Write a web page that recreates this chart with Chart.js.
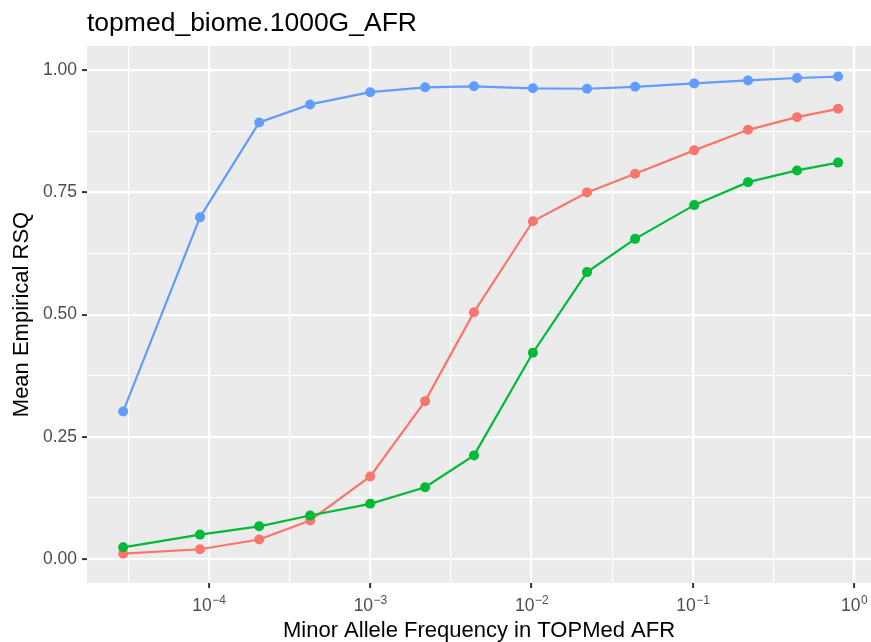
<!DOCTYPE html>
<html>
<head>
<meta charset="utf-8">
<script src="https://cdn.jsdelivr.net/npm/chart.js@4/dist/chart.umd.min.js"></script>
<style>
  html, body { margin: 0; padding: 0; background: #fff; }
  canvas { display: block; }
</style>
</head>
<body>
<canvas id="rsqChart" width="871" height="642"></canvas>
<script>
// minor allele frequency bins (x axis, log10)
var mafBins = [2.94e-5, 8.8e-5, 2.05e-4, 4.24e-4, 1.0e-3, 2.19e-3, 4.4e-3,
               1.02e-2, 2.21e-2, 4.39e-2, 0.102, 0.220, 0.443, 0.796];
// mean empirical rsq per series
var redRsq   = [0.011, 0.020, 0.040, 0.079, 0.169, 0.323, 0.505,
                0.691, 0.750, 0.788, 0.836, 0.878, 0.904, 0.921];
var greenRsq = [0.024, 0.050, 0.067, 0.089, 0.113, 0.147, 0.212,
                0.422, 0.587, 0.655, 0.724, 0.771, 0.795, 0.811];
var blueRsq  = [0.302, 0.699, 0.893, 0.930, 0.955, 0.965, 0.967,
                0.963, 0.962, 0.966, 0.973, 0.979, 0.984, 0.987];
// tick labels
var xTickExps   = [-4, -3, -2, -1, 0];
var xTickBase   = "10";
var xTickSups   = ["\u22124", "\u22123", "\u22122", "\u22121", "0"];
var yTickValues = [0, 0.25, 0.5, 0.75, 1];
var yTickLabels = ["0.00", "0.25", "0.50", "0.75", "1.00"];

var FONT = "'Liberation Sans', Arial, sans-serif";

function pts(ys) {
  return ys.map(function (y, i) { return {x: mafBins[i], y: y}; });
}

Chart.defaults.font.family = FONT;

var panelBg = {
  id: 'panelBg',
  beforeDraw: function (chart) {
    var a = chart.chartArea, c = chart.ctx;
    c.save();
    c.fillStyle = '#EBEBEB';
    c.fillRect(a.left, a.top, a.right - a.left, a.bottom - a.top);
    c.restore();
  }
};

// x tick labels as 10 with a raised exponent
var powerLabels = {
  id: 'powerLabels',
  afterDraw: function (chart) {
    var sx = chart.scales.x, c = chart.ctx;
    var yb = chart.chartArea.bottom;
    c.save();
    c.fillStyle = '#4D4D4D';
    c.textBaseline = 'alphabetic';
    c.textAlign = 'left';
    xTickExps.forEach(function (e, i) {
      var px = sx.getPixelForValue(Math.pow(10, e));
      c.font = '17.5px ' + FONT;
      var w1 = c.measureText(xTickBase).width;
      c.font = '12px ' + FONT;
      var w2 = c.measureText(xTickSups[i]).width;
      var x0 = px - (w1 + w2) / 2;
      c.font = '17.5px ' + FONT;
      c.fillText(xTickBase, x0, yb + 28);
      c.font = '12px ' + FONT;
      c.fillText(xTickSups[i], x0 + w1 + 0.5, yb + 21);
    });
    c.restore();
  }
};

function gridWidth(ctx) { return ctx.tick && ctx.tick.isMajor ? 2.2 : 1.1; }
function tickCol(ctx) { return ctx.tick && ctx.tick.isMajor ? '#333333' : 'rgba(0,0,0,0)'; }

function series(label, data, color, order) {
  return {
    label: label,
    data: pts(data),
    borderColor: color,
    backgroundColor: color,
    pointBackgroundColor: color,
    pointBorderWidth: 0,
    pointRadius: 5,
    borderWidth: 2.2,
    tension: 0,
    order: order
  };
}

var ctx = document.getElementById('rsqChart').getContext('2d');
var rsqChart = new Chart(ctx, {
  type: 'line',
  data: {
    datasets: [
      series('red', redRsq, '#F8766D', 2),
      series('green', greenRsq, '#00BA38', 1),
      series('blue', blueRsq, '#619CFF', 0)
    ]
  },
  plugins: [panelBg, powerLabels],
  options: {
    responsive: false,
    animation: false,
    devicePixelRatio: 1,
    layout: { padding: 0, autoPadding: false },
    plugins: {
      legend: { display: false },
      tooltip: { enabled: false },
      title: {
        display: true,
        text: 'topmed_biome.1000G_AFR',
        align: 'start',
        fullSize: false,
        color: '#000000',
        font: { size: 26.5, weight: 'normal', lineHeight: 1.2 },
        padding: { top: 7.7, bottom: 6.5 }
      }
    },
    scales: {
      x: {
        type: 'logarithmic',
        bounds: 'data',
        min: Math.pow(10, -4.756),
        max: Math.pow(10, 0.105),
        afterBuildTicks: function (scale) {
          var t = [];
          for (var e = -4.5; e <= 0; e += 0.5) {
            t.push({ value: Math.pow(10, e), isMajor: Number.isInteger(e) });
          }
          scale.ticks = t;
        },
        afterFit: function (scale) {
          scale.height = 59;
          scale.paddingLeft = 0;
          scale.paddingRight = 0;
        },
        border: { display: false },
        grid: {
          color: '#FFFFFF',
          lineWidth: gridWidth,
          drawTicks: true,
          tickLength: 5,
          tickColor: tickCol,
          tickWidth: 2
        },
        ticks: {
          autoSkip: false,
          maxRotation: 0,
          padding: 6,
          callback: function () { return ''; }
        },
        title: {
          display: true,
          text: 'Minor Allele Frequency in TOPMed AFR',
          color: '#000000',
          font: { size: 22, lineHeight: 1 },
          padding: { top: 0, bottom: 0 }
        }
      },
      y: {
        type: 'linear',
        bounds: 'data',
        min: -0.049,
        max: 1.0495,
        afterBuildTicks: function (scale) {
          var t = [];
          for (var k = 0; k <= 8; k++) {
            t.push({ value: k * 0.125, isMajor: k % 2 === 0 });
          }
          scale.ticks = t;
        },
        afterFit: function (scale) {
          scale.width = 87;
          scale.paddingTop = 0;
          scale.paddingBottom = 0;
        },
        border: { display: false },
        grid: {
          color: '#FFFFFF',
          lineWidth: gridWidth,
          drawTicks: true,
          tickLength: 5,
          tickColor: tickCol,
          tickWidth: 2
        },
        ticks: {
          autoSkip: false,
          padding: 5,
          color: '#4D4D4D',
          font: { size: 17.5 },
          callback: function (value, index, ticks) {
            var t = ticks[index];
            if (!t.isMajor) return '';
            return yTickLabels[yTickValues.indexOf(t.value)];
          }
        },
        title: {
          display: true,
          text: 'Mean Empirical RSQ',
          color: '#000000',
          font: { size: 22, lineHeight: 1 },
          padding: { top: 11, bottom: 0 }
        }
      }
    }
  }
});
</script>
</body>
</html>
